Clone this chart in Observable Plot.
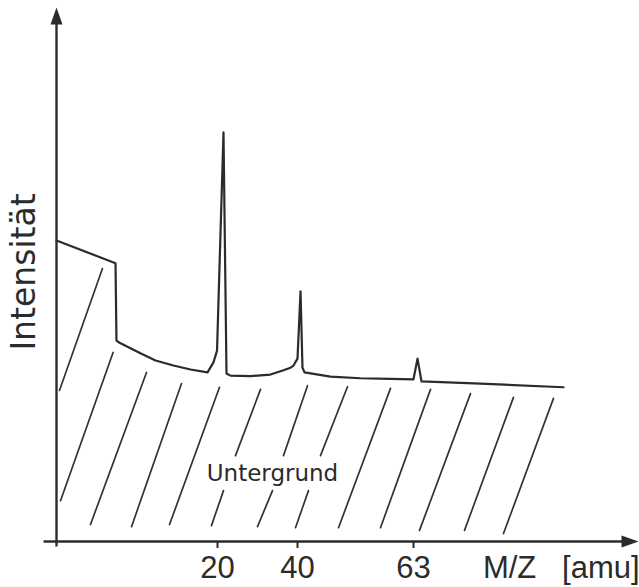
<!DOCTYPE html>
<html>
<head>
<meta charset="utf-8">
<script src="https://cdn.jsdelivr.net/npm/d3@7"></script>
<script src="https://cdn.jsdelivr.net/npm/@observablehq/plot@0.6"></script>
<style>
  html, body { margin: 0; padding: 0; background: #fff; }
</style>
</head>
<body>
<div id="chart"></div>
<script>
// Spectrum trace: M/Z position and intensity (arbitrary units)
const spectrumMZ = [0, 7.33, 7.45, 7.83, 10.43, 12.3, 14.53, 16.65, 18.76, 19.5, 19.94, 21.5, 22.25, 23.25, 28.25, 33.25, 36.5, 38.25, 39, 40, 40.6, 40.99, 41.39, 46.54, 52.49, 58.44, 63, 63.66, 64.32, 74.02, 87.67];
const spectrumIntensity = [56.8, 52.5, 37.9, 37.5, 35.5, 34.15, 33.2, 32.45, 31.9, 33.8, 36.0, 77.2, 31.7, 31.3, 31.2, 31.5, 32.3, 32.8, 33.2, 34.5, 47.2, 32.8, 31.9, 31.1, 30.8, 30.7, 30.6, 34.5, 30.2, 29.8, 29.1];

// Hatching of the background ("Untergrund") region: segment start / end
const hatchFromMZ = [0.37, 0.50, 4.22, 9.32, 14.04, 19.25, 24.5, 30.0, 36.5, 39.5, 44.56, 48.13, 56.46, 63.99, 71.39, 77.8];
const hatchFromI  = [28.5, 7.7, 3.2, 2.8, 3.2, 3.0, 16.2, 2.8, 16.2, 2.6, 16.2, 2.6, 2.6, 2.1, 2.1, 1.5];
const hatchToMZ   = [5.71, 7.04, 11.18, 15.53, 20.5, 21.5, 30.75, 33.75, 41.98, 42.18, 49.91, 58.44, 65.8, 72.37, 79.44, 86.02];
const hatchToI    = [51.5, 35.7, 31.9, 29.8, 29.1, 9.6, 28.7, 9.6, 29.4, 9.6, 29.2, 28.9, 28.7, 27.9, 27.2, 27.0];

// Axis ticks and labels
const xTickValues = [20, 40, 63];
// the schematic M/Z axis is not proportional: these M/Z values sit at these fractions of the axis
const xBreaks = [0, 20, 40, 63, 100];
const xBreakShare = [0, 27.663, 41.409, 61.340, 100];
const xAxisExtent = [-1.61, 100];
const yAxisExtent = [-0.94, 100.75];
const yLabel = "Intensität";
const xUnitLabels = ["M/Z", "[amu]"];
const xUnitPositions = [78.8, 93.8];
const regionLabel = "Untergrund";

// ---- Tables built from the arrays ----
const spectrum = spectrumMZ.map((mz, i) => ({mz, intensity: spectrumIntensity[i]}));
const hatch = hatchFromMZ.map((mz, i) => ({x1: mz, y1: hatchFromI[i], x2: hatchToMZ[i], y2: hatchToI[i]}));
const unitLabels = xUnitLabels.map((t, i) => ({t, mz: xUnitPositions[i]}));
const mzWarp = d3.scaleLinear().domain(xBreaks).range(xBreakShare);

// Filled arrowhead symbol, tip at origin pointing up
const arrowHead = {
  draw(context) {
    context.moveTo(0, 0);
    context.lineTo(-6, 17);
    context.lineTo(6, 17);
    context.closePath();
  }
};

const ink = "#2b2b2b";

const chart = Plot.plot({
  width: 639,
  height: 587,
  marginTop: 11,
  marginBottom: 46,
  marginLeft: 56,
  marginRight: 1,
  style: {background: "#fff", color: ink, fontFamily: "'Liberation Sans', Arial, sans-serif"},
  x: {domain: [0, 100], transform: (v) => mzWarp(v), label: null, axis: null},
  y: {domain: [0, 100], axis: null, label: null},
  marks: [
    // hatching
    Plot.link(hatch, {x1: "x1", y1: "y1", x2: "x2", y2: "y2", stroke: "#333", strokeWidth: 1.7, strokeLinecap: "round"}),
    // axes lines
    Plot.link([0], {x1: xAxisExtent[0], x2: xAxisExtent[1] - 1.5, y1: 0, y2: 0, stroke: ink, strokeWidth: 2.4}),
    Plot.link([0], {x1: 0, x2: 0, y1: yAxisExtent[0], y2: yAxisExtent[1] - 2, stroke: ink, strokeWidth: 2.4}),
    // arrowheads
    Plot.dot([0], {x: 0, y: yAxisExtent[1], symbol: arrowHead, r: 5, fill: ink, stroke: "none"}),
    Plot.dot([0], {x: xAxisExtent[1], y: 0, symbol: arrowHead, r: 5, fill: ink, stroke: "none", rotate: 90}),
    // ticks and tick labels (through the warped M/Z scale)
    Plot.ruleX(xTickValues, {x: d => d, y1: 0, y2: 0, insetBottom: -7, stroke: ink, strokeWidth: 2}),
    Plot.text(xTickValues, {x: d => d, y: 0, text: d => String(d), dy: 14, lineAnchor: "top", fontSize: 31, fill: ink}),
    Plot.text(unitLabels, {x: "mz", y: 0, text: "t", dy: 14, lineAnchor: "top", fontSize: 31, fill: ink}),
    // spectrum trace
    Plot.line(spectrum, {x: "mz", y: "intensity", stroke: ink, strokeWidth: 2.2, strokeLinejoin: "round"}),
    // y label
    Plot.text([yLabel], {x: -3.93, y: 50.85, text: d => d, rotate: -90, fontSize: 33, fontFamily: "'DejaVu Sans', sans-serif", fill: ink, lineAnchor: "middle"}),
    // region label
    Plot.text([regionLabel], {x: 33.75, y: 12.83, text: d => d, fontSize: 23, fontFamily: "'DejaVu Sans', sans-serif", fill: ink, lineAnchor: "middle"})
  ]
});

document.getElementById("chart").appendChild(chart);
</script>
</body>
</html>
